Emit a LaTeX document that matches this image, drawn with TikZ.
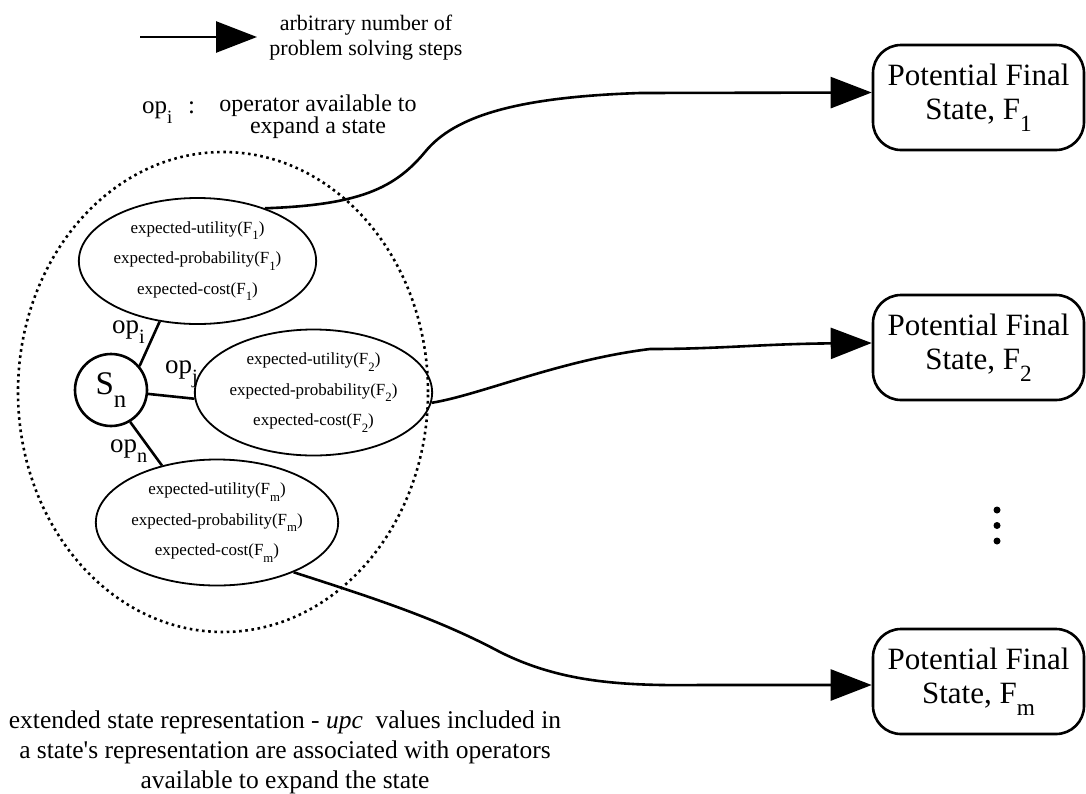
\documentclass[tikz,border=0pt]{standalone}
\usepackage{fontspec}
\usepackage{graphicx}
\setmainfont{Liberation Serif}
\usetikzlibrary{shapes.geometric,arrows.meta}
% lowered, reduced index as in F_1, op_i
\newcommand\lowsc[1]{\raisebox{-0.4em}{\scalebox{0.75}{#1}}}
\begin{document}
\begin{tikzpicture}[x=1pt,y=-1pt,
  conn/.style={line width=2.6pt,-{Triangle[length=41pt,width=31pt]}},
  link/.style={line width=2.6pt},
  upc/.style={ellipse,draw,line width=1.8pt,minimum width=200pt,minimum height=126pt,
    inner sep=0pt,align=center,font=\fontsize{17}{30.5}\selectfont},
  final/.style={draw,line width=2.6pt,rounded corners=28pt,minimum width=211pt,
    minimum height=105pt,inner sep=0pt,align=center,font=\fontsize{31}{34}\selectfont},
  state/.style={circle,draw,line width=2.6pt,minimum size=72pt,inner sep=0pt,
    font=\fontsize{33}{34}\selectfont},
  region/.style={ellipse,draw,line width=2.6pt,dash pattern=on 2.6pt off 3.6pt,
    minimum width=410pt,minimum height=480pt,inner sep=0pt},
  oplabel/.style={inner sep=0pt,anchor=base west,font=\fontsize{27}{30}\selectfont},
  dot/.style={circle,fill,minimum size=7pt,inner sep=0pt}]
\useasboundingbox (0,0) rectangle (1086,793);

% legend
\coordinate (la) at (140,37);
\coordinate (lb) at (257,37);
\draw[conn] (la) -- (lb);
\node[align=center,font=\fontsize{22}{25}\selectfont] (legtxt) at (366,38)
  {arbitrary number of\\problem solving steps};
\node[inner sep=0pt,anchor=base west,font=\fontsize{25}{28}\selectfont] (opkey) at (142,113) {op\lowsc{i}};
\node[inner sep=0pt,anchor=base west,font=\fontsize{25}{28}\selectfont] (colon) at (188,113) {:};
\node[align=center,inner sep=0pt,font=\fontsize{24}{22}\selectfont] (opdesc) at (318,117)
  {operator available to\\expand a state};

% extended state
\node[region] (region) at (223,392) {};
\node[state] (sn) at (111,390) {S\lowsc{n}};
\node[upc] (e1) at (197.5,261)
  {expected-utility(F\lowsc{1})\\expected-probability(F\lowsc{1})\\expected-cost(F\lowsc{1})};
\node[upc] (e2) at (313.5,392.5)
  {expected-utility(F\lowsc{2})\\expected-probability(F\lowsc{2})\\expected-cost(F\lowsc{2})};
\node[upc] (e3) at (217,522.5)
  {expected-utility(F\lowsc{m})\\expected-probability(F\lowsc{m})\\expected-cost(F\lowsc{m})};

\draw[link] (sn.40) -- (e1.-122);
\draw[link] (sn.-6) -- (e2.183);
\draw[link] (sn.-59) -- (e3.134);
\node[oplabel] (opi) at (112,333) {op\lowsc{i}};
\node[oplabel] (opj) at (165,373) {op\lowsc{j}};
\node[oplabel] (opn) at (110,452) {op\lowsc{n}};

% potential final states
\node[final] (f1) at (978.5,97.5) {Potential Final\\State, F\lowsc{1}};
\node[final] (f2) at (978.5,347.5) {Potential Final\\State, F\lowsc{2}};
\node[final] (fm) at (978.5,681.5) {Potential Final\\State, F\lowsc{m}};
\node[dot] (d1) at (997,510) {};
\node[dot] (d2) at (997,525.5) {};
\node[dot] (d3) at (997,541) {};

% problem solving steps
\draw[conn] (e1.38) .. controls (360,205) and (395,188) .. (425,152)
  .. controls (455,115) and (520,97) .. (640,93) -- ([yshift=5pt]f1.west);
\draw[conn] (e2.-5) .. controls (480,395) and (560,360) .. (650,349)
  .. controls (720,349) and (760,344) .. ([yshift=4.5pt]f2.west);
\draw[conn] (e3.-33) .. controls (380,600) and (440,620) .. (500,652)
  .. controls (560,682) and (620,686) .. (700,685) -- ([yshift=-3.5pt]fm.west);

% caption
\node[align=center,font=\fontsize{25.5}{30}\selectfont] (caption) at (285,752)
  {extended state representation - \textit{upc}~ values included in\\
   a state\textquotesingle s representation are associated with operators\\
   available to expand the state};
\end{tikzpicture}
\end{document}
